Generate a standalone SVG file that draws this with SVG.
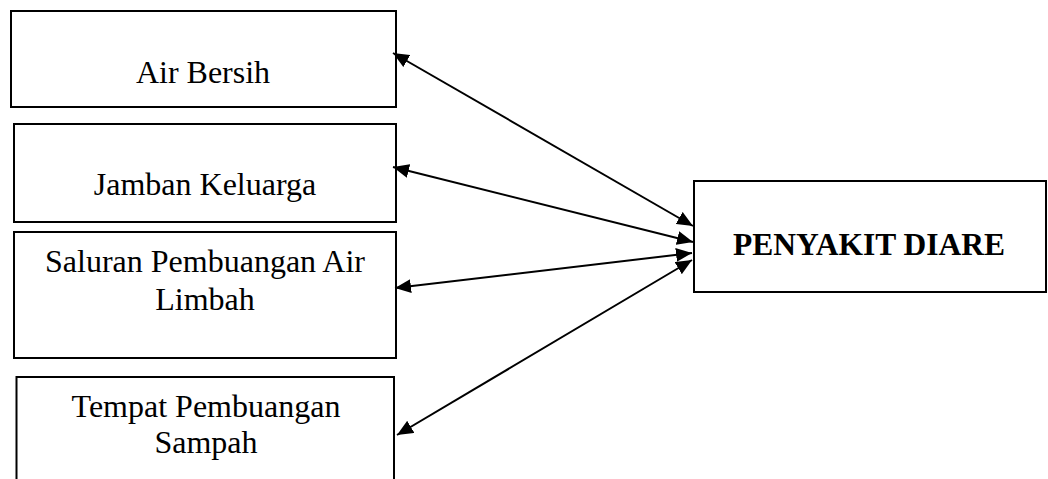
<svg xmlns="http://www.w3.org/2000/svg" width="1048" height="479" viewBox="0 0 1048 479">
  <style>
    .box { fill: #ffffff; stroke: #000000; stroke-width: 2; }
    .lbl { font-family: "Liberation Serif", "Times New Roman", serif; font-size: 32px; fill: #000000; text-anchor: middle; }
    .bold { font-weight: bold; font-size: 31.5px; }
    .link { stroke: #000000; stroke-width: 2; fill: none; marker-start: url(#head); marker-end: url(#head); }
  </style>
  <defs>
    <marker id="head" viewBox="0 0 16 14" refX="16" refY="7" markerWidth="16" markerHeight="14" markerUnits="userSpaceOnUse" orient="auto-start-reverse">
      <path d="M0,0 L16,7 L0,14 z" fill="#000000"/>
    </marker>
  </defs>
  <rect width="1048" height="479" fill="#ffffff"/>

  <g id="air-bersih">
    <rect class="box" x="11" y="11" width="385" height="96"/>
    <text class="lbl" x="203" y="83">Air Bersih</text>
  </g>

  <g id="jamban-keluarga">
    <rect class="box" x="14" y="124" width="382" height="98"/>
    <text class="lbl" x="205" y="195">Jamban Keluarga</text>
  </g>

  <g id="saluran-air-limbah">
    <rect class="box" x="14" y="232" width="382" height="126"/>
    <text class="lbl" x="205" y="272">Saluran Pembuangan Air</text>
    <text class="lbl" x="205" y="310">Limbah</text>
  </g>

  <g id="tempat-sampah">
    <rect class="box" x="16.5" y="377" width="377.5" height="130"/>
    <text class="lbl" x="206" y="417">Tempat Pembuangan</text>
    <text class="lbl" x="206" y="453">Sampah</text>
  </g>

  <g id="penyakit-diare">
    <rect class="box" x="694" y="181" width="352" height="111"/>
    <text class="lbl bold" x="869" y="255">PENYAKIT DIARE</text>
  </g>

  <g id="connectors">
    <line class="link" x1="393" y1="53" x2="693" y2="226"/>
    <line class="link" x1="393" y1="167" x2="693" y2="242"/>
    <line class="link" x1="395" y1="288" x2="692" y2="253"/>
    <line class="link" x1="397" y1="435" x2="692" y2="260"/>
  </g>
</svg>
